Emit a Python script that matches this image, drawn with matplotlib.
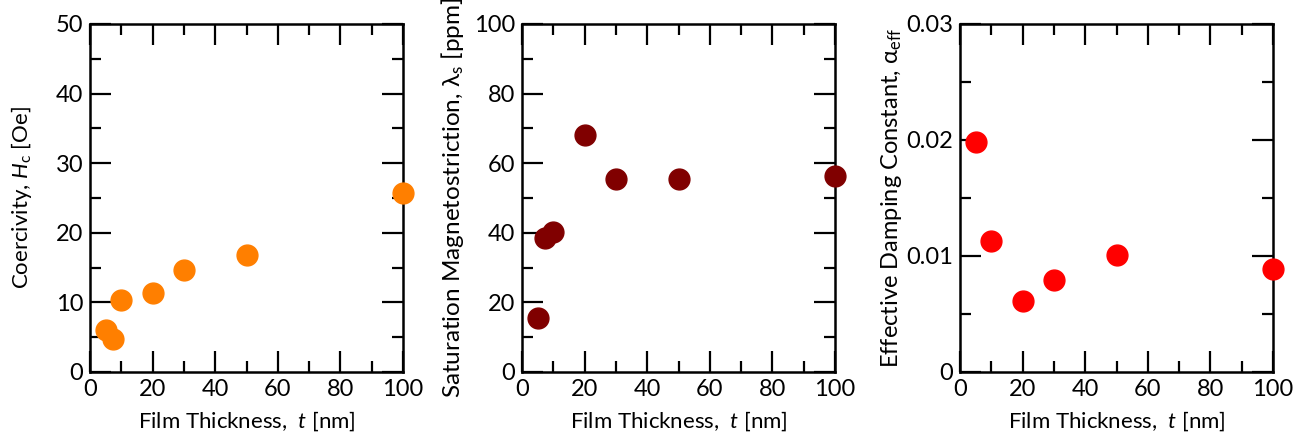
import matplotlib
matplotlib.use("Agg")
import matplotlib.pyplot as plt
from matplotlib.ticker import MultipleLocator

plt.rcParams["font.family"] = ["Lato", "DejaVu Sans"]
plt.rcParams["mathtext.fontset"] = "custom"
plt.rcParams["mathtext.rm"] = "Lato"
plt.rcParams["mathtext.it"] = "Lato:italic"
plt.rcParams["font.size"] = 17

# film thickness (nm)
thickness = [5, 7.5, 10, 20, 30, 50, 100]
coercivity = [6.0, 4.7, 10.3, 11.4, 14.6, 16.8, 25.7]
magnetostriction = [15.4, 38.6, 40.1, 68.2, 55.6, 55.5, 56.4]

thickness_damping = [5, 10, 20, 30, 50, 100]
damping = [0.0198, 0.0113, 0.0061, 0.0079, 0.0101, 0.0089]

xlabel = "Film Thickness,  $\\mathit{t}$ [nm]"

panels = [
    dict(x=thickness, y=coercivity, color="#ff7f00", ylim=(0, 50), major=10, minor=5,
         ylabel="Coercivity, $\\mathit{H}_\\mathrm{c}$ [Oe]", fmt=None, left=90,
         label_x=22, label_size=16),
    dict(x=thickness, y=magnetostriction, color="#800000", ylim=(0, 100), major=20, minor=10,
         ylabel="Saturation Magnetostriction, $\\mathrm{\\lambda}_\\mathrm{s}$ [ppm]", fmt=None, left=522,
         label_x=453, label_size=17.5),
    dict(x=thickness_damping, y=damping, color="#ff0000", ylim=(0, 0.03), major=0.01, minor=0.005,
         ylabel="Effective Damping Constant, $\\mathrm{\\alpha}_\\mathrm{eff}$", fmt="damp", left=960,
         label_x=892, label_size=17),
]

W, H = 1294, 432
AX_W, AX_H = 313, 348
fig = plt.figure(figsize=(W / 100, H / 100), dpi=100)

for p in panels:
    ax = fig.add_axes([p["left"] / W, 60 / H, AX_W / W, AX_H / H])
    ax.plot(p["x"], p["y"], "o", color=p["color"], markersize=15, clip_on=False, zorder=3)
    ax.set_xlim(0, 100)
    ax.set_ylim(*p["ylim"])
    ax.xaxis.set_major_locator(MultipleLocator(20))
    ax.xaxis.set_minor_locator(MultipleLocator(10))
    ax.yaxis.set_major_locator(MultipleLocator(p["major"]))
    ax.yaxis.set_minor_locator(MultipleLocator(p["minor"]))
    if p["fmt"] == "damp":
        ax.set_yticks([0, 0.01, 0.02, 0.03])
        ax.set_yticklabels(["0", "0.01", "0.02", "0.03"])
    ax.tick_params(which="both", direction="in", top=True, right=True, width=1.6, pad=5)
    ax.tick_params(which="major", length=15)
    ax.tick_params(which="minor", length=8)
    for s in ax.spines.values():
        s.set_linewidth(1.8)
    ax.set_xlabel(xlabel, fontsize=16)
    ax.xaxis.set_label_coords(0.5, -(421 - 372) / AX_H)
    ax.xaxis.label.set_verticalalignment("center")
    ax.set_ylabel(p["ylabel"], fontsize=p["label_size"])
    ax.yaxis.set_label_coords((p["label_x"] - p["left"]) / AX_W, 0.5)
    ax.yaxis.label.set_verticalalignment("center")

fig.savefig("out.png", dpi=100)
